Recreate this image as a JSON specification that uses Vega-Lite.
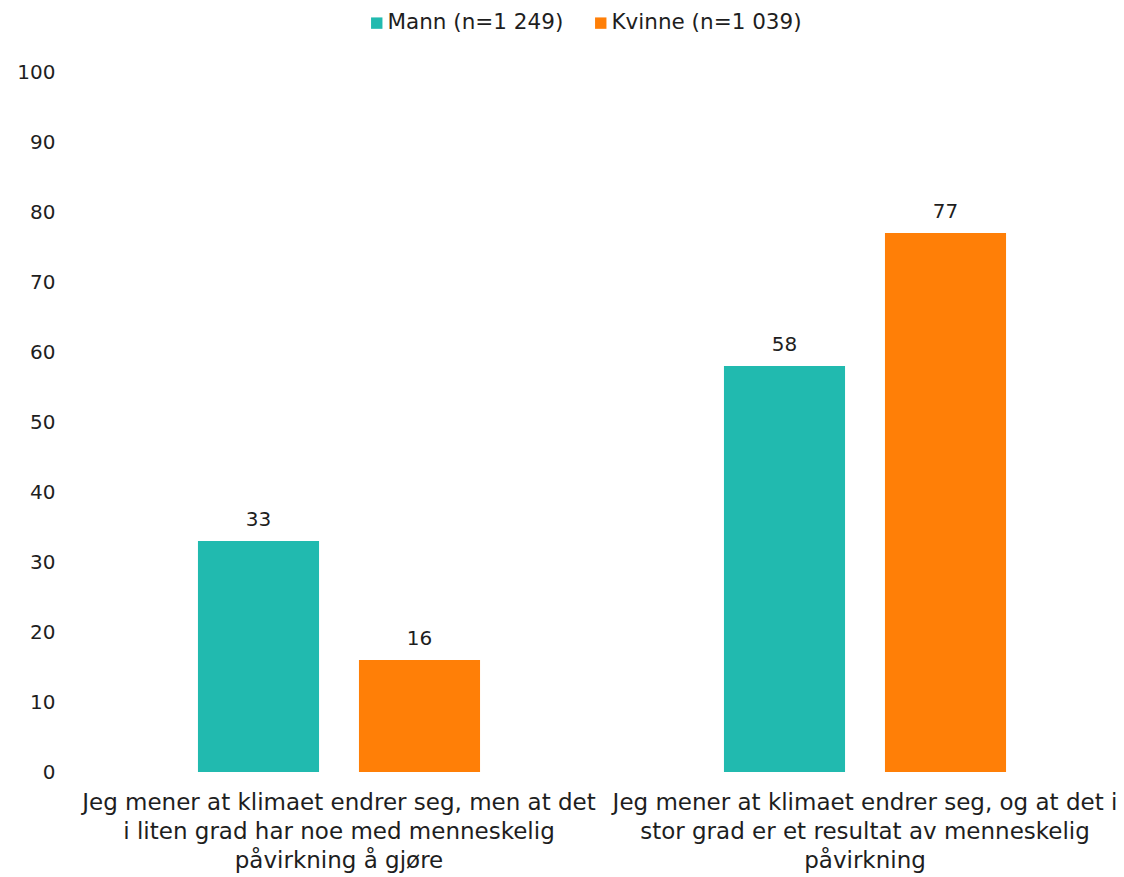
{
  "$schema": "https://vega.github.io/schema/vega-lite/v6.json",
  "width": 1052,
  "height": 700,
  "autosize": {"type": "none"},
  "padding": {"left": 76, "top": 72, "right": 0, "bottom": 105},
  "config": {"view": {"stroke": null}, "font": "DejaVu Sans"},
  "data": {
    "values": [
      {"svar": "Jeg mener at klimaet endrer seg, men at det i liten grad har noe med menneskelig påvirkning å gjøre", "kjonn": "Mann (n=1 249)", "prosent": 33},
      {"svar": "Jeg mener at klimaet endrer seg, men at det i liten grad har noe med menneskelig påvirkning å gjøre", "kjonn": "Kvinne (n=1 039)", "prosent": 16},
      {"svar": "Jeg mener at klimaet endrer seg, og at det i stor grad er et resultat av menneskelig påvirkning", "kjonn": "Mann (n=1 249)", "prosent": 58},
      {"svar": "Jeg mener at klimaet endrer seg, og at det i stor grad er et resultat av menneskelig påvirkning", "kjonn": "Kvinne (n=1 039)", "prosent": 77}
    ]
  },
  "encoding": {
    "x": {
      "field": "svar", "type": "nominal", "sort": null,
      "scale": {"paddingInner": 0, "paddingOuter": 0},
      "axis": {
        "title": null, "domain": false, "ticks": false, "labelAngle": 0,
        "labelFontSize": 23, "labelColor": "#1e1e1e", "labelPadding": 19,
        "labelLineHeight": 29, "labelLimit": 700, "labelOverlap": false, "labelBound": false,
        "labelExpr": "indexof(datum.value, 'liten') >= 0 ? ['Jeg mener at klimaet endrer seg, men at det', 'i liten grad har noe med menneskelig', 'påvirkning å gjøre'] : ['Jeg mener at klimaet endrer seg, og at det i', 'stor grad er et resultat av menneskelig', 'påvirkning']"
      }
    },
    "xOffset": {
      "field": "kjonn", "type": "nominal", "sort": null,
      "scale": {"paddingInner": 0.248, "paddingOuter": 0.7575}
    },
    "y": {
      "field": "prosent", "type": "quantitative",
      "scale": {"domain": [0, 100]},
      "axis": {
        "title": null, "grid": false, "domain": false, "ticks": false,
        "values": [0, 10, 20, 30, 40, 50, 60, 70, 80, 90, 100],
        "labelFontSize": 20, "labelColor": "#1e1e1e", "labelPadding": 21
      }
    }
  },
  "layer": [
    {
      "mark": {"type": "bar"},
      "encoding": {
        "color": {
          "field": "kjonn", "type": "nominal", "sort": null,
          "scale": {"domain": ["Mann (n=1 249)", "Kvinne (n=1 039)"], "range": ["#21BAAF", "#FF7F07"]},
          "legend": {
            "orient": "none", "legendX": 290, "legendY": -60, "direction": "horizontal",
            "title": null, "symbolType": "square", "symbolSize": 130, "symbolStrokeWidth": 0,
            "labelFontSize": 21.5, "labelLimit": 400, "labelColor": "#1e1e1e", "columnPadding": 26, "labelOffset": 0
          }
        }
      }
    },
    {
      "mark": {"type": "text", "baseline": "bottom", "dy": -11, "fontSize": 20, "color": "#1e1e1e"},
      "encoding": {"text": {"field": "prosent", "type": "quantitative"}}
    }
  ]
}
